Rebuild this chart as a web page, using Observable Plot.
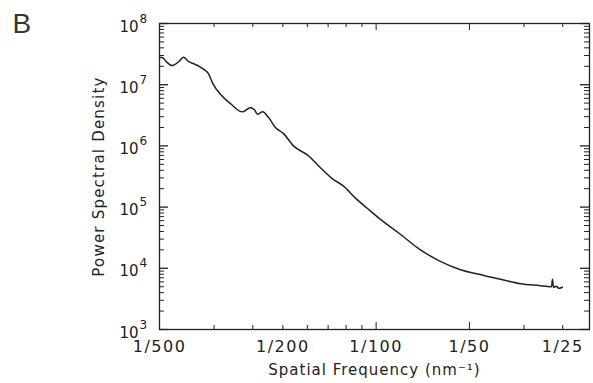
<!DOCTYPE html>
<html>
<head>
<meta charset="utf-8">
<script src="https://cdn.jsdelivr.net/npm/d3@7"></script>
<script src="https://cdn.jsdelivr.net/npm/@observablehq/plot@0.6"></script>
<style>
  html, body { margin: 0; padding: 0; background: #fff; }
  #chart svg { display: block; }
</style>
</head>
<body>
<div id="chart"></div>
<script>
// Spatial frequency (nm^-1) and power spectral density
const freq = [0.00200,0.00205,0.00210,0.00220,0.00230,0.00239,0.00248,0.00258,0.00268,0.00277,0.00288,0.00297,0.00315,0.00339,0.00370,0.00393,0.00405,0.00414,0.00430,0.00450,0.00473,0.00502,0.00541,0.00605,0.00661,0.00723,0.00785,0.00858,0.00938,0.01033,0.01197,0.01390,0.01611,0.01871,0.02169,0.02518,0.02922,0.03388,0.03649,0.03680,0.03707,0.03733,0.03819,0.03880,0.03990];
const psd = [2.8e7,2.75e7,2.4e7,2.05e7,2.35e7,2.8e7,2.4e7,2.2e7,2.0e7,1.8e7,1.5e7,1.05e7,6.9e6,4.9e6,3.6e6,4.2e6,3.9e6,3.3e6,3.6e6,2.9e6,2.0e6,1.6e6,1.0e6,6.9e5,4.4e5,2.9e5,2.2e5,1.4e5,9.5e4,6.3e4,3.6e4,2.0e4,1.3e4,9.5e3,7.9e3,6.6e3,5.6e3,5.2e3,5.0e3,5.0e3,6.6e3,4.9e3,5.1e3,4.7e3,4.9e3];

// x tick marks and labels
const xMinorTicks = [0.003,0.004,0.005,0.006,0.007,0.008,0.009,0.03,0.04];
const xMajorTicks = [0.01,0.02];
const xLabelValues = [0.002,0.005,0.01,0.02,0.04];
const xLabelTexts = ["1/500","1/200","1/100","1/50","1/25"];

// y decades and minor multipliers
const yExponents = [3,4,5,6,7,8];
const yMinorMultipliers = [2,3,4,5,6,7,8,9];

const xTitle = "Spatial Frequency (nm\u207B\u00B9)";
const yTitle = "Power Spectral Density";
const panelLetter = "B";

const data = freq.map((f, i) => ({f, p: psd[i]}));
const xLabels = xLabelValues.map((v, i) => ({v, t: xLabelTexts[i]}));
const yMajor = yExponents.map(e => 10 ** e);
const yMinor = [];
for (const e of yExponents.slice(0, -1)) for (const m of yMinorMultipliers) yMinor.push(m * 10 ** e);

const W = 593, H = 383;
const mT = 23, mB = 54, mL = 159, mR = 4;
const pH = H - mT - mB, pW = W - mL - mR;
const ink = "#222";

const chart = Plot.plot({
  width: W, height: H,
  marginTop: mT, marginBottom: mB, marginLeft: mL, marginRight: mR,
  x: {type: "log", domain: [0.002, 0.0488], axis: null},
  y: {type: "log", domain: [1e3, 1e8], axis: null},
  style: {fontFamily: "DejaVu Sans", color: ink, background: "white", overflow: "visible"},
  marks: [
    Plot.frame({stroke: ink, strokeWidth: 1.3}),
    Plot.tickX(xMinorTicks, {x: d => d, insetTop: pH - 4, stroke: ink}),
    Plot.tickX(xMinorTicks, {x: d => d, insetBottom: pH - 4, stroke: ink}),
    Plot.tickX(xMajorTicks, {x: d => d, insetTop: pH - 7, stroke: ink}),
    Plot.tickX(xMajorTicks, {x: d => d, insetBottom: pH - 7, stroke: ink}),
    Plot.tickY(yMinor, {y: d => d, insetRight: pW - 5, stroke: ink}),
    Plot.tickY(yMinor, {y: d => d, insetLeft: pW - 5, stroke: ink}),
    Plot.tickY(yMajor, {y: d => d, insetRight: pW - 9, stroke: ink, strokeWidth: 1.3}),
    Plot.tickY(yMajor, {y: d => d, insetLeft: pW - 9, stroke: ink, strokeWidth: 1.3}),
    Plot.line(data, {x: "f", y: "p", stroke: ink, strokeWidth: 1.5, curve: "monotone-x"}),
    Plot.text(xLabels, {x: "v", text: "t", frameAnchor: "bottom", lineAnchor: "top", dy: 11, fontSize: 16, fill: ink}),
    Plot.text(yMajor, {y: d => d, text: () => "10", frameAnchor: "left", textAnchor: "end", lineAnchor: "bottom", dx: -21, dy: 8, fontSize: 15, fill: ink}),
    Plot.text(yExponents, {y: d => 10 ** d, text: d => String(d), frameAnchor: "left", textAnchor: "start", lineAnchor: "bottom", dx: -20, dy: -1, fontSize: 12, fill: ink}),
    Plot.text([yTitle], {text: d => d, frameAnchor: "left", textAnchor: "middle", rotate: -90, dx: -60, lineAnchor: "middle", fontSize: 15, fill: ink}),
    Plot.text([xTitle], {text: d => d, frameAnchor: "bottom", textAnchor: "middle", lineAnchor: "bottom", dy: 45, fontSize: 15, fill: ink}),
    Plot.text([panelLetter], {text: d => d, frameAnchor: "top-left", textAnchor: "start", lineAnchor: "top", dx: -147, dy: -10, fontSize: 28, fill: "#333", fontFamily: "Liberation Sans"})
  ]
});

d3.select(chart).selectAll("text").each(function() {
  const t = this.textContent;
  if (t === yTitle) this.setAttribute("letter-spacing", "1.2");
  else if (t === xTitle) this.setAttribute("letter-spacing", "1");
  else if (t.startsWith("1/")) this.setAttribute("letter-spacing", "1.5");
});

document.getElementById("chart").appendChild(chart);
</script>
</body>
</html>
